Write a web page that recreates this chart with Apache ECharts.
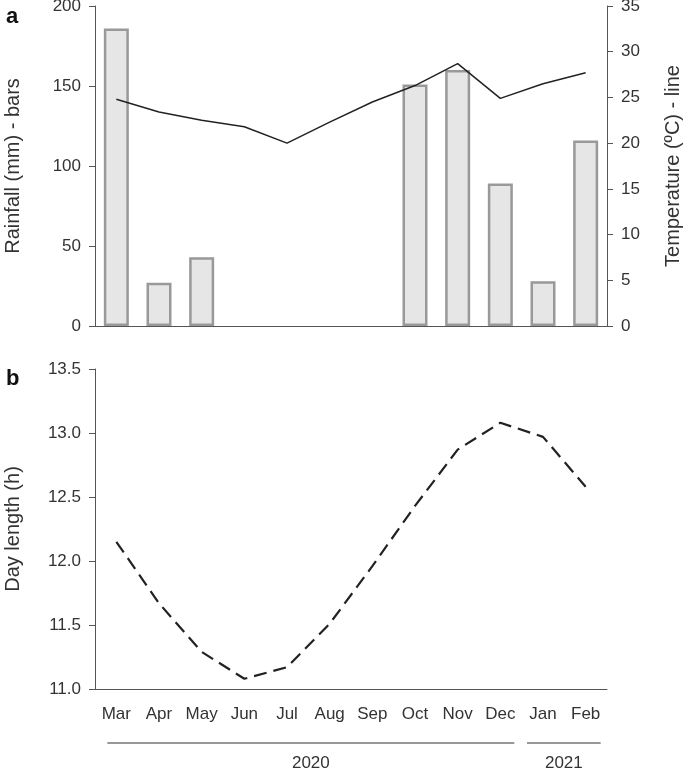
<!DOCTYPE html>
<html>
<head>
<meta charset="utf-8">
<script src="https://cdn.jsdelivr.net/npm/echarts@6/dist/echarts.min.js"></script>
<style>html,body{margin:0;padding:0;background:#fff}#c{width:685px;height:774px}</style>
</head>
<body>
<div id="c"></div>
<script>
var months = ['Mar','Apr','May','Jun','Jul','Aug','Sep','Oct','Nov','Dec','Jan','Feb'];
var rainfall = [186, 27, 43, 0, 0, 0, 0, 151, 160, 89, 28, 116];
var temperature = [24.8, 23.4, 22.5, 21.8, 20.0, 22.3, 24.5, 26.3, 28.7, 24.9, 26.5, 27.7];
var dayLength = [12.15, 11.67, 11.29, 11.08, 11.17, 11.51, 11.96, 12.43, 12.87, 13.08, 12.97, 12.58];
var years = [{label: '2020', from: 0, to: 9}, {label: '2021', from: 10, to: 11}];

var FONT = 'Liberation Sans, Arial, sans-serif';
var TXT = '#333';
var AX = '#555';
var chart = echarts.init(document.getElementById('c'), null, {renderer: 'canvas'});

function xAx(grid, showLabel) {
  return {
    type: 'category', gridIndex: grid, data: months, boundaryGap: true,
    axisLine: {lineStyle: {color: AX, width: 1}},
    axisTick: {alignWithLabel: true, length: 5, lineStyle: {color: AX}},
    axisLabel: {show: showLabel, margin: 17, color: TXT, fontSize: 17, fontFamily: FONT}
  };
}
function yAx(grid, pos, min, max, interval, name, gap, fmt) {
  return {
    type: 'value', gridIndex: grid, position: pos, min: min, max: max, interval: interval,
    name: name, nameLocation: 'middle', nameGap: gap, nameRotate: 90,
    nameTextStyle: {color: TXT, fontSize: 20, fontFamily: FONT},
    splitLine: {show: false},
    axisLine: {show: true, lineStyle: {color: AX, width: 1}},
    axisTick: {show: true, length: 6, lineStyle: {color: AX}},
    axisLabel: {margin: 14, color: TXT, fontSize: 17, fontFamily: FONT, formatter: fmt}
  };
}

var rainData = rainfall.map(function (v) {
  return v === 0 ? {value: v, itemStyle: {borderWidth: 0}} : v;
});

chart.setOption({
  animation: false,
  grid: [
    {left: 95, top: 6, width: 512, height: 320, outerBoundsMode: 'none', containLabel: false},
    {left: 95, top: 369, width: 512, height: 320, outerBoundsMode: 'none', containLabel: false}
  ],
  xAxis: [xAx(0, false), xAx(1, true)],
  yAxis: [
    yAx(0, 'left', 0, 200, 50, 'Rainfall (mm) - bars', 72),
    yAx(0, 'right', 0, 35, 5, 'Temperature (ºC) - line', 56),
    yAx(1, 'left', 11, 13.5, 0.5, 'Day length (h)', 72, function (v) { return v.toFixed(1); })
  ],
  series: [
    {
      type: 'bar', xAxisIndex: 0, yAxisIndex: 0, data: rainData, barWidth: 25,
      itemStyle: {color: '#e6e6e6', borderColor: '#999', borderWidth: 2.5}
    },
    {
      type: 'line', xAxisIndex: 0, yAxisIndex: 1, data: temperature, symbol: 'none',
      lineStyle: {color: '#222', width: 1.5}
    },
    {
      type: 'line', xAxisIndex: 1, yAxisIndex: 2, data: dayLength, symbol: 'none',
      lineStyle: {color: '#222', width: 2.2, type: [13, 7]}
    }
  ]
});

var graphics = [
  {type: 'text', left: 6, top: 6, style: {text: 'a', font: 'bold 22px ' + FONT, fill: '#111'}},
  {type: 'text', left: 6, top: 368, style: {text: 'b', font: 'bold 22px ' + FONT, fill: '#111'}}
];
years.forEach(function (y) {
  var x0 = chart.convertToPixel({xAxisIndex: 1}, y.from);
  var x1 = chart.convertToPixel({xAxisIndex: 1}, y.to);
  var a = x0 - (y.from === 0 ? 9 : 16);
  var b = x1 + (y.from === 0 ? 14 : 15);
  graphics.push({type: 'line', shape: {x1: a, y1: 743, x2: b, y2: 743}, style: {stroke: '#333', lineWidth: 1}});
  graphics.push({type: 'text', x: (a + b) / 2, y: 763, style: {text: y.label, font: '17px ' + FONT, fill: TXT, align: 'center', verticalAlign: 'middle'}});
});
chart.setOption({graphic: graphics});
</script>
</body>
</html>
